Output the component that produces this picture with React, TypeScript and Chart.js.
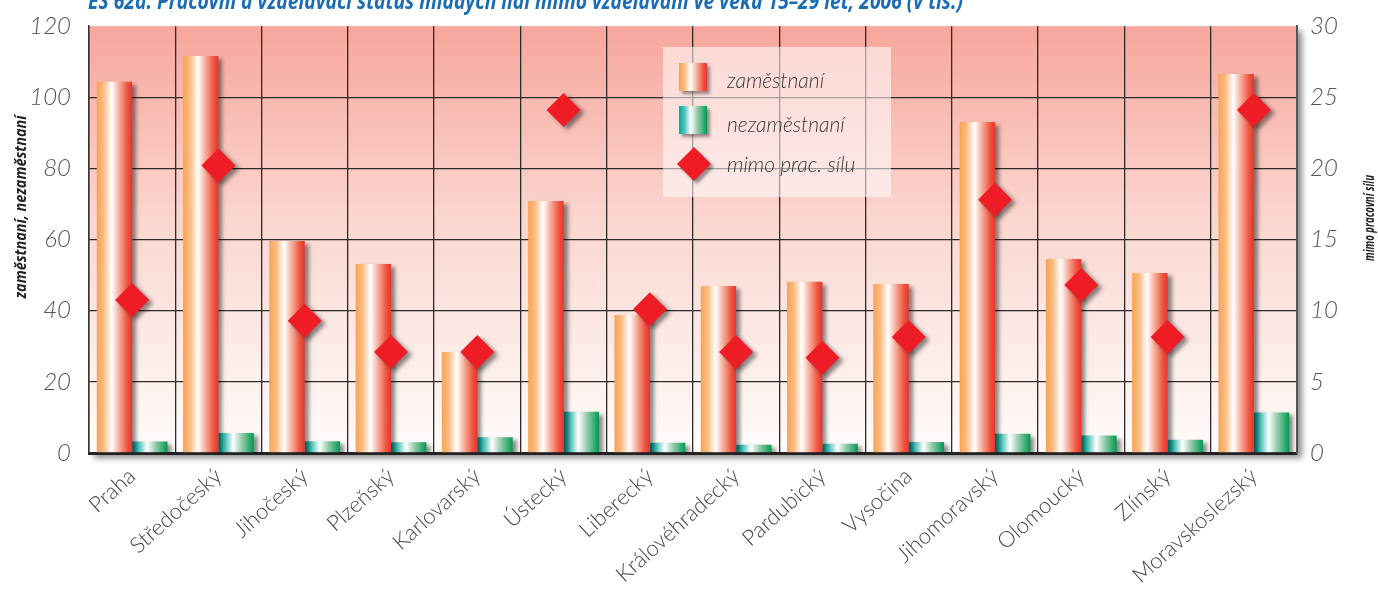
import React, { useEffect, useRef } from 'react';
import { Chart, registerables } from 'chart.js';
Chart.register(...registerables);

const categories = ['Praha', 'Středočeský', 'Jihočeský', 'Plzeňský', 'Karlovarský', 'Ústecký', 'Liberecký', 'Královéhradecký', 'Pardubický', 'Vysočina', 'Jihomoravský', 'Olomoucký', 'Zlínský', 'Moravskoslezský'];
const zamestnani = [104.3, 111.6, 59.6, 53.1, 28.4, 70.8, 38.8, 46.9, 48.1, 47.5, 93.0, 54.5, 50.6, 106.5];
const nezamestnani = [3.2, 5.6, 3.3, 3.0, 4.4, 11.6, 2.9, 2.3, 2.6, 3.1, 5.4, 4.9, 3.7, 11.4];
const mimoPracSilu = [10.75, 20.2, 9.3, 7.1, 7.1, 24.1, 10.1, 7.1, 6.7, 8.15, 17.8, 11.8, 8.15, 24.1];

const seriesNames = ['zaměstnaní', 'nezaměstnaní', 'mimo prac. sílu'];
const titleText = 'ES 62a. Pracovní a vzdělávací status mladých lidí mimo vzdělávání ve věku 15–29 let, 2006 (v tis.)';
const leftAxisTitle = 'zaměstnaní, nezaměstnaní';
const rightAxisTitle = 'mimo pracovní sílu';
const leftMax = 120;
const leftStep = 20;
const rightMax = 30;
const rightStep = 5;

const CAT_PCT = 0.82;
const orangeStops: [number, string][] = [[0, '#f8a254'], [0.2, '#fbbd84'], [0.42, '#ffffff'], [0.62, '#f6b2a0'], [0.85, '#ee5a44'], [1, '#e8332a']];
const tealStops: [number, string][] = [[0, '#00a99d'], [0.2, '#52c4ba'], [0.42, '#ffffff'], [0.65, '#98cdae'], [1, '#009a4e']];

function barGrad(stops: [number, string][], side: number) {
  return (c: any) => {
    const chart = c.chart;
    const xs = chart.scales && chart.scales.x;
    if (!xs || c.dataIndex === undefined || !chart.chartArea) return stops[0][1];
    const center = xs.getPixelForValue(c.dataIndex);
    const bw = (xs.width / categories.length) * CAT_PCT / 2;
    const left = center - bw + side * bw;
    const g = chart.ctx.createLinearGradient(left, 0, left + bw, 0);
    stops.forEach(([o, col]) => g.addColorStop(o, col));
    return g;
  };
}

const bgPlugin = {
  id: 'bgPlot',
  beforeDraw(chart: any) {
    const { ctx, chartArea: a } = chart;
    ctx.save();
    ctx.fillStyle = '#ffffff';
    ctx.fillRect(0, 0, chart.width, chart.height);
    ctx.shadowColor = 'rgba(0,0,0,0.45)';
    ctx.shadowBlur = 6;
    ctx.shadowOffsetX = 5;
    ctx.shadowOffsetY = 5;
    const g = ctx.createLinearGradient(0, a.top, 0, a.bottom);
    g.addColorStop(0, '#f7a69c');
    g.addColorStop(0.45, '#fad6cf');
    g.addColorStop(1, '#fffcfb');
    ctx.fillStyle = g;
    ctx.fillRect(a.left, a.top, a.right - a.left, a.bottom - a.top);
    ctx.restore();
  },
};

const shadowPlugin = {
  id: 'markShadows',
  beforeDatasetDraw(chart: any) {
    const ctx = chart.ctx;
    ctx.save();
    ctx.shadowColor = 'rgba(0,0,0,0.45)';
    ctx.shadowBlur = 4;
    ctx.shadowOffsetX = 4;
    ctx.shadowOffsetY = 3;
  },
  afterDatasetDraw(chart: any) {
    chart.ctx.restore();
  },
};

function drawDiamond(ctx: CanvasRenderingContext2D, x: number, y: number, r: number) {
  ctx.beginPath();
  ctx.moveTo(x, y - r);
  ctx.lineTo(x + r, y);
  ctx.lineTo(x, y + r);
  ctx.lineTo(x - r, y);
  ctx.closePath();
  ctx.fill();
}

function fitText(ctx: CanvasRenderingContext2D, text: string, target: number) {
  const w = ctx.measureText(text).width;
  ctx.scale(target / w, 1);
  ctx.fillText(text, 0, 0);
}

const overlayPlugin = {
  id: 'overlay',
  afterDraw(chart: any) {
    const ctx: CanvasRenderingContext2D = chart.ctx;
    // legend
    ctx.save();
    ctx.fillStyle = 'rgba(255,255,255,0.55)';
    ctx.fillRect(663, 47, 228, 150);
    const items: [string, [number, string][]][] = [
      [seriesNames[0], orangeStops],
      [seriesNames[1], tealStops],
    ];
    items.forEach(([, stops], i) => {
      const x = 679, y = 63 + i * 43, w = 28, h = 28;
      const g = ctx.createLinearGradient(x, 0, x + w, 0);
      stops.forEach(([o, col]) => g.addColorStop(o, col));
      ctx.save();
      ctx.shadowColor = 'rgba(0,0,0,0.4)';
      ctx.shadowBlur = 3; ctx.shadowOffsetX = 3; ctx.shadowOffsetY = 3;
      ctx.fillStyle = g;
      ctx.fillRect(x, y, w, h);
      ctx.restore();
    });
    ctx.save();
    ctx.shadowColor = 'rgba(0,0,0,0.4)';
    ctx.shadowBlur = 3; ctx.shadowOffsetX = 3; ctx.shadowOffsetY = 3;
    ctx.fillStyle = '#ee1c25';
    drawDiamond(ctx, 694, 164, 17);
    ctx.restore();
    ctx.fillStyle = '#3a3a3a';
    ctx.font = 'italic 300 21px Lato';
    ctx.textBaseline = 'alphabetic';
    ctx.textAlign = 'left';
    ctx.fillText(seriesNames[0], 727, 88);
    ctx.fillText(seriesNames[1], 727, 132);
    ctx.fillText(seriesNames[2], 727, 172);
    ctx.restore();

    // axis titles
    ctx.save();
    ctx.fillStyle = '#222';
    ctx.font = 'italic bold 16px "Open Sans", "DejaVu Sans", sans-serif';
    ctx.textAlign = 'center';
    ctx.textBaseline = 'middle';
    ctx.translate(21, 207);
    ctx.rotate(-Math.PI / 2);
    fitText(ctx, leftAxisTitle, 183);
    ctx.restore();
    ctx.save();
    ctx.fillStyle = '#222';
    ctx.font = 'italic bold 14px "Open Sans", "DejaVu Sans", sans-serif';
    ctx.textAlign = 'center';
    ctx.textBaseline = 'middle';
    ctx.translate(1370, 218);
    ctx.rotate(-Math.PI / 2);
    fitText(ctx, rightAxisTitle, 86);
    ctx.restore();

    // title (clipped at top)
    ctx.save();
    ctx.fillStyle = '#1a6db5';
    ctx.font = 'italic bold 24px "Open Sans", "DejaVu Sans", sans-serif';
    ctx.textAlign = 'left';
    ctx.textBaseline = 'alphabetic';
    ctx.translate(88, 9);
    fitText(ctx, titleText, 875);
    ctx.restore();
  },
};

const tickFont = { family: 'Lato', size: 24, weight: '300' as any, style: 'italic' as any };

export default function App() {
  const ref = useRef<HTMLCanvasElement>(null);
  useEffect(() => {
    if (!ref.current) return;
    const chart = new Chart(ref.current, {
      data: {
        labels: categories,
        datasets: [
          {
            type: 'line',
            label: seriesNames[2],
            data: mimoPracSilu,
            yAxisID: 'y1',
            showLine: false,
            pointStyle: 'rectRot',
            pointRadius: 17,
            pointHoverRadius: 17,
            pointBorderWidth: 0,
            backgroundColor: '#ee1c25',
            borderColor: '#ee1c25',
            order: 0,
          } as any,
          {
            type: 'bar',
            label: seriesNames[0],
            data: zamestnani,
            yAxisID: 'y',
            backgroundColor: barGrad(orangeStops, 0),
            borderWidth: 0,
            barPercentage: 1,
            categoryPercentage: CAT_PCT,
            order: 1,
          } as any,
          {
            type: 'bar',
            label: seriesNames[1],
            data: nezamestnani,
            yAxisID: 'y',
            backgroundColor: barGrad(tealStops, 1),
            borderWidth: 0,
            barPercentage: 1,
            categoryPercentage: CAT_PCT,
            order: 2,
          } as any,
        ],
      },
      options: {
        responsive: false,
        animation: false,
        devicePixelRatio: 1,
        layout: { padding: { top: 26, left: 0, right: 0, bottom: 0 } },
        plugins: {
          legend: { display: false },
          tooltip: { enabled: false },
          title: { display: false },
        },
        scales: {
          x: {
            type: 'category',
            offset: true,
            grid: { offset: true, color: '#2b2b2b', lineWidth: 1.3, drawTicks: false },
            border: { color: '#222', width: 3 },
            ticks: {
              font: { family: 'Lato', size: 22, weight: '300' as any },
              color: '#444',
              maxRotation: 42,
              minRotation: 42,
              padding: 10,
              autoSkip: false,
            },
            afterFit(s: any) { s.height = 140; s.paddingLeft = 0; s.paddingRight = 0; },
          },
          y: {
            position: 'left',
            min: 0,
            max: leftMax,
            ticks: { stepSize: leftStep, padding: 18, font: tickFont, color: '#555' },
            grid: {
              color: (c: any) => (c.tick && c.tick.value === leftMax ? 'rgba(255,255,255,0.6)' : '#2b2b2b'),
              lineWidth: 1.3,
              drawTicks: false,
            },
            border: { color: '#333', width: 1.5 },
            afterFit(s: any) { s.width = 89; s.paddingTop = 0; s.paddingBottom = 0; },
          },
          y1: {
            position: 'right',
            min: 0,
            max: rightMax,
            ticks: { stepSize: rightStep, padding: 13, font: tickFont, color: '#555' },
            grid: { display: false, drawTicks: false },
            border: { color: '#555', width: 2 },
            afterFit(s: any) { s.width = 81; s.paddingTop = 0; s.paddingBottom = 0; },
          },
        } as any,
      },
      plugins: [bgPlugin, shadowPlugin, overlayPlugin],
    });
    return () => chart.destroy();
  }, []);
  return (
    <div style={{ position: 'fixed', left: 0, top: 0, width: 1378, height: 593, background: '#fff' }}>
      <canvas ref={ref} width={1378} height={593} style={{ display: 'block' }} />
    </div>
  );
}
